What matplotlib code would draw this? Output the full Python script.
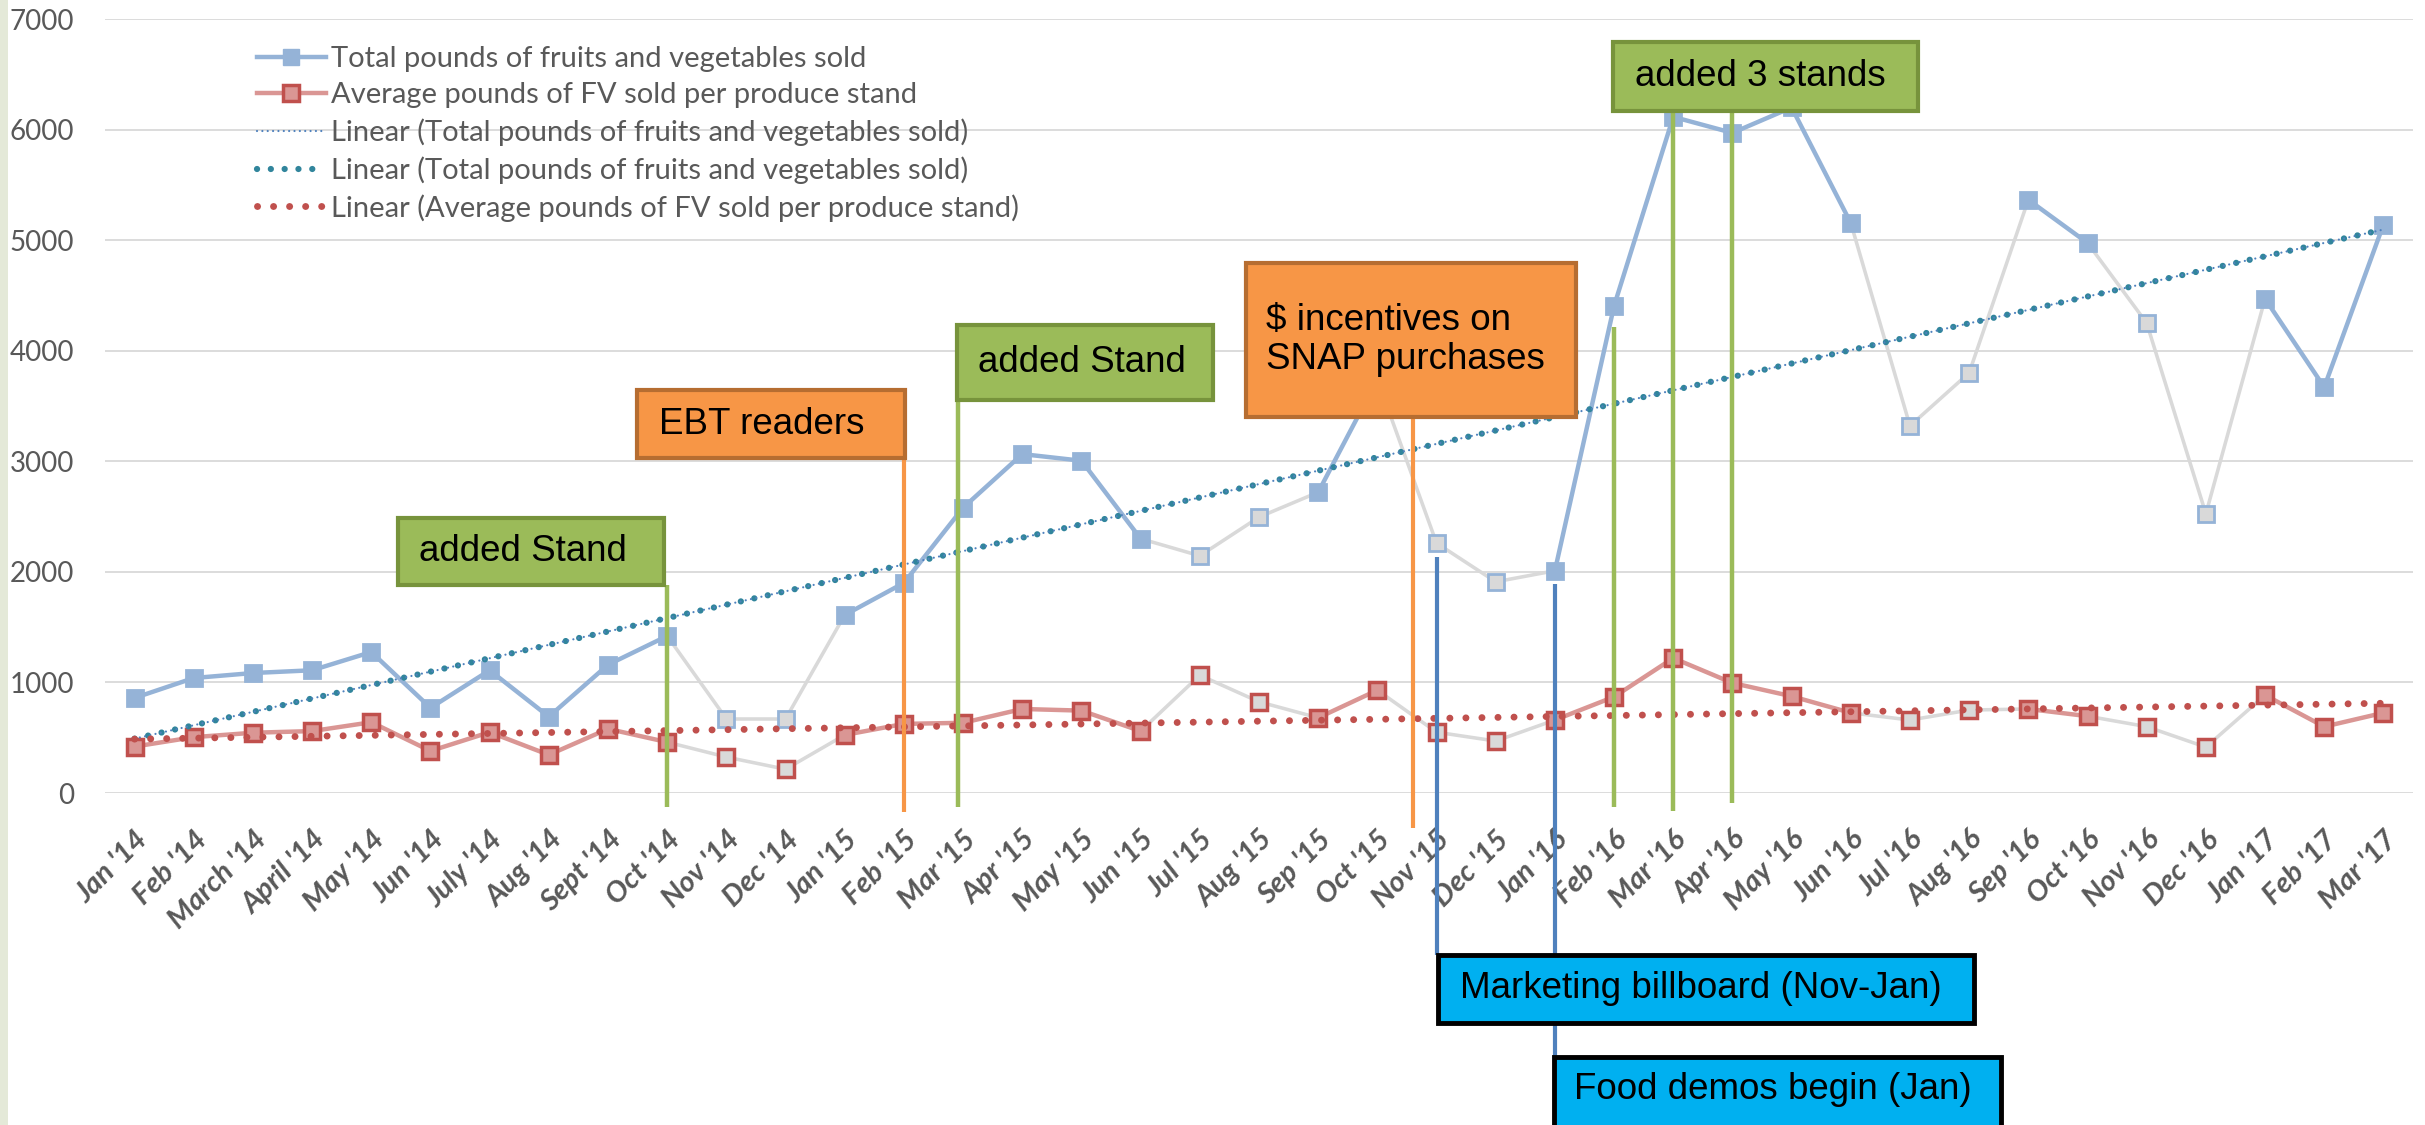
import numpy as np
import matplotlib.pyplot as plt
from matplotlib.patches import Rectangle
from matplotlib.lines import Line2D

# monthly data, Jan '14 - Mar '17
months = ["Jan '14", "Feb '14", "March '14", "April '14", "May '14", "Jun '14",
          "July '14", "Aug '14", "Sept '14", "Oct '14", "Nov '14", "Dec '14",
          "Jan '15", "Feb '15", "Mar '15", "Apr '15", "May '15", "Jun '15",
          "Jul '15", "Aug '15", "Sep '15", "Oct '15", "Nov '15", "Dec '15",
          "Jan '16", "Feb '16", "Mar '16", "Apr '16", "May '16", "Jun '16",
          "Jul '16", "Aug '16", "Sep '16", "Oct '16", "Nov '16", "Dec '16",
          "Jan '17", "Feb '17", "Mar '17"]

total_lbs = [860, 1040, 1085, 1110, 1275, 770, 1110, 690, 1160, 1420, 670, 670,
             1610, 1900, 2580, 3065, 3005, 2300, 2145, 2495, 2720, 3740, 2260, 1910,
             2010, 4405, 6115, 5970, 6200, 5155, 3320, 3800, 5365, 4975, 4250, 2525,
             4470, 3670, 5140]

avg_lbs = [420, 505, 545, 560, 640, 380, 550, 345, 580, 460, 325, 215,
           525, 625, 635, 760, 745, 560, 1065, 825, 680, 930, 550, 470,
           660, 870, 1220, 995, 875, 725, 660, 750, 760, 695, 600, 415,
           885, 600, 725]

# months greyed out in the original (off season)
off_months = ["Nov '14", "Dec '14", "Jul '15", "Aug '15", "Nov '15", "Dec '15",
              "Jul '16", "Aug '16", "Nov '16", "Dec '16"]

legend_labels = ["Total pounds of fruits and vegetables sold",
                 "Average pounds of FV sold per produce stand",
                 "Linear (Total pounds of fruits and vegetables sold)",
                 "Linear (Total pounds of fruits and vegetables sold)",
                 "Linear (Average pounds of FV sold per produce stand)"]

# colours
BLUE = '#95B3D7'
PINK = '#DA9694'
RED = '#C0504D'
GREY = '#D9D9D9'
TEAL = '#31859C'
TREND_BLUE = '#4F81BD'
GREEN = '#9BBB59'
GREEN_EDGE = '#77933C'
ORANGE = '#F79646'
ORANGE_EDGE = '#B66D31'
CYAN = '#00B0F0'
LINE_BLUE = '#4F81BD'
TXT = '#595959'

x = np.arange(len(months))
off = np.array([m in off_months for m in months])

fig = plt.figure(figsize=(24.25, 11.25), dpi=100)
# thin background strip on the left edge
fig.patches.append(Rectangle((0, 0), 8 / 2425, 1, transform=fig.transFigure,
                             fc='#E4E9D8', ec='none', zorder=-10))
ax = fig.add_axes([105 / 2425, 1 - 793 / 1125, (2413 - 105) / 2425, (793 - 19) / 1125])


def draw_series(vals, line_col, lw, face, edge, mew):
    vals = np.asarray(vals, dtype=float)
    for i in range(len(vals) - 1):
        grey = off[i] or off[i + 1]
        ax.plot([x[i], x[i + 1]], [vals[i], vals[i + 1]],
                color=GREY if grey else line_col, lw=lw if not grey else lw * 0.8,
                solid_capstyle='round', zorder=2)
    ax.plot(x[~off], vals[~off], 's', ms=11.5, mfc=face, mec=edge, mew=mew, zorder=3)
    ax.plot(x[off], vals[off], 's', ms=11.5, mfc=GREY, mec=edge, mew=mew, zorder=3)


draw_series(total_lbs, BLUE, 3.2, BLUE, BLUE, 2.0)
draw_series(avg_lbs, PINK, 3.2, PINK, RED, 2.5)

# linear trendlines (least squares, like Excel)
t = x + 1
k1, b1 = np.polyfit(t, total_lbs, 1)
k2, b2 = np.polyfit(t, avg_lbs, 1)
ax.plot(x, k1 * t + b1, color=TEAL, lw=4.5, ls=(0, (0.01, 2.2)),
        dash_capstyle='round', zorder=4)
ax.plot(x, k1 * t + b1, color=TREND_BLUE, lw=1.6, ls=(0, (0.01, 2.4)),
        dash_capstyle='round', zorder=4)
ax.plot(x, k2 * t + b2, color=RED, lw=5, ls=(0, (0.01, 2.3)),
        dash_capstyle='round', zorder=4)

ax.set_xlim(-0.5, len(months) - 0.5)
ax.set_ylim(0, 7000)
ax.set_yticks(np.arange(0, 7001, 1000))
ax.yaxis.grid(True, color=GREY, lw=1.3)
ax.set_axisbelow(True)
for s in ax.spines.values():
    s.set_visible(False)
ax.tick_params(length=0)
ax.tick_params(axis='y', pad=22, labelsize=20, labelcolor=TXT)
ax.set_xticks(x)
ax.set_xticklabels(months, rotation=45, ha='right', rotation_mode='anchor',
                   fontsize=21, fontweight='bold', fontstyle='italic', color=TXT,
                   family='Lato')
ax.tick_params(axis='x', pad=24)
for lab in ax.get_yticklabels():
    lab.set_family('Lato')

# legend
handles = [
    Line2D([], [], color=BLUE, lw=3.2, marker='s', ms=11.5, mfc=BLUE, mec=BLUE),
    Line2D([], [], color=PINK, lw=3.2, marker='s', ms=11.5, mfc=PINK, mec=RED, mew=2.5),
    Line2D([], [], color=TREND_BLUE, lw=1.6, ls=(0, (0.01, 2.4)), dash_capstyle='round'),
    Line2D([], [], color=TEAL, lw=4.5, ls=(0, (0.01, 2.2)), dash_capstyle='round'),
    Line2D([], [], color=RED, lw=5, ls=(0, (0.01, 2.3)), dash_capstyle='round'),
]
leg = ax.legend(handles, legend_labels, loc='upper left',
                bbox_to_anchor=(257 / 2425, 1 - 46 / 1125), bbox_transform=fig.transFigure,
                frameon=False, borderpad=0, borderaxespad=0, handlelength=2.35,
                handletextpad=0.2, labelspacing=0.35,
                prop={'family': 'Lato', 'size': 21})
for txt in leg.get_texts():
    txt.set_color(TXT)

# event annotations: (text, month position of the marker line)
events = [
    ("added Stand", 9),
    ("EBT readers", 13),
    ("added Stand", 14),
    ("$ incentives on\nSNAP purchases", 21.6),
    ("added 3 stands", 25),
    ("Marketing billboard (Nov-Jan)", 22),
    ("Food demos begin (Jan)", 24),
]


def callout(box, tx, ty, text, fc, ec, elw):
    x0, x1, y0, y1 = box
    ax.add_patch(Rectangle((x0, y0), x1 - x0, y1 - y0, fc=fc, ec=ec, lw=elw,
                           clip_on=False, zorder=8))
    ax.text(tx, ty, text, ha='left', va='center', fontsize=26.5, color='black',
            family='Liberation Sans', clip_on=False, zorder=9, linespacing=1.15)


def vline(xp, top, bottom, col, lw):
    ax.plot([xp, xp], [bottom, top], color=col, lw=lw, clip_on=False,
            solid_capstyle='butt', zorder=7)


# marker lines under the callouts
vline(events[0][1], 1881, -127, GREEN, 3.2)
vline(events[1][1], 3030, -172, ORANGE, 3.0)
vline(events[2][1] - 0.08, 3554, -127, GREEN, 3.2)
vline(events[3][1], 3400, -316, ORANGE, 3.0)
vline(events[4][1], 4214, -127, GREEN, 3.2)
vline(events[4][1] + 1, 6168, -163, GREEN, 3.2)
vline(events[4][1] + 2, 6168, -90, GREEN, 3.2)
vline(events[5][1], 2134, -1465, LINE_BLUE, 3.0)
vline(events[6][1], 1890, -2388, LINE_BLUE, 3.0)

# callout boxes
callout((4.45, 8.94, 1881, 2487), 4.80, 2183, events[0][0], GREEN, GREEN_EDGE, 3)
callout((8.49, 13.01, 3030, 3645), 8.86, 3335, events[1][0], ORANGE, ORANGE_EDGE, 3)
callout((13.89, 18.22, 3554, 4233), 14.25, 3890, events[2][0], GREEN, GREEN_EDGE, 3)
callout((18.78, 24.35, 3400, 4793), 19.11, 4095, events[3][0], ORANGE, ORANGE_EDGE, 3)
callout((24.99, 30.14, 6168, 6792), 25.35, 6480, events[4][0], GREEN, GREEN_EDGE, 3)
callout((22.03, 31.09, -2080, -1465), 22.40, -1764, events[5][0], CYAN, 'black', 3.5)
callout((23.98, 31.53, -3300, -2388), 24.33, -2686, events[6][0], CYAN, 'black', 3.5)

fig.savefig('out.png', dpi=100)
